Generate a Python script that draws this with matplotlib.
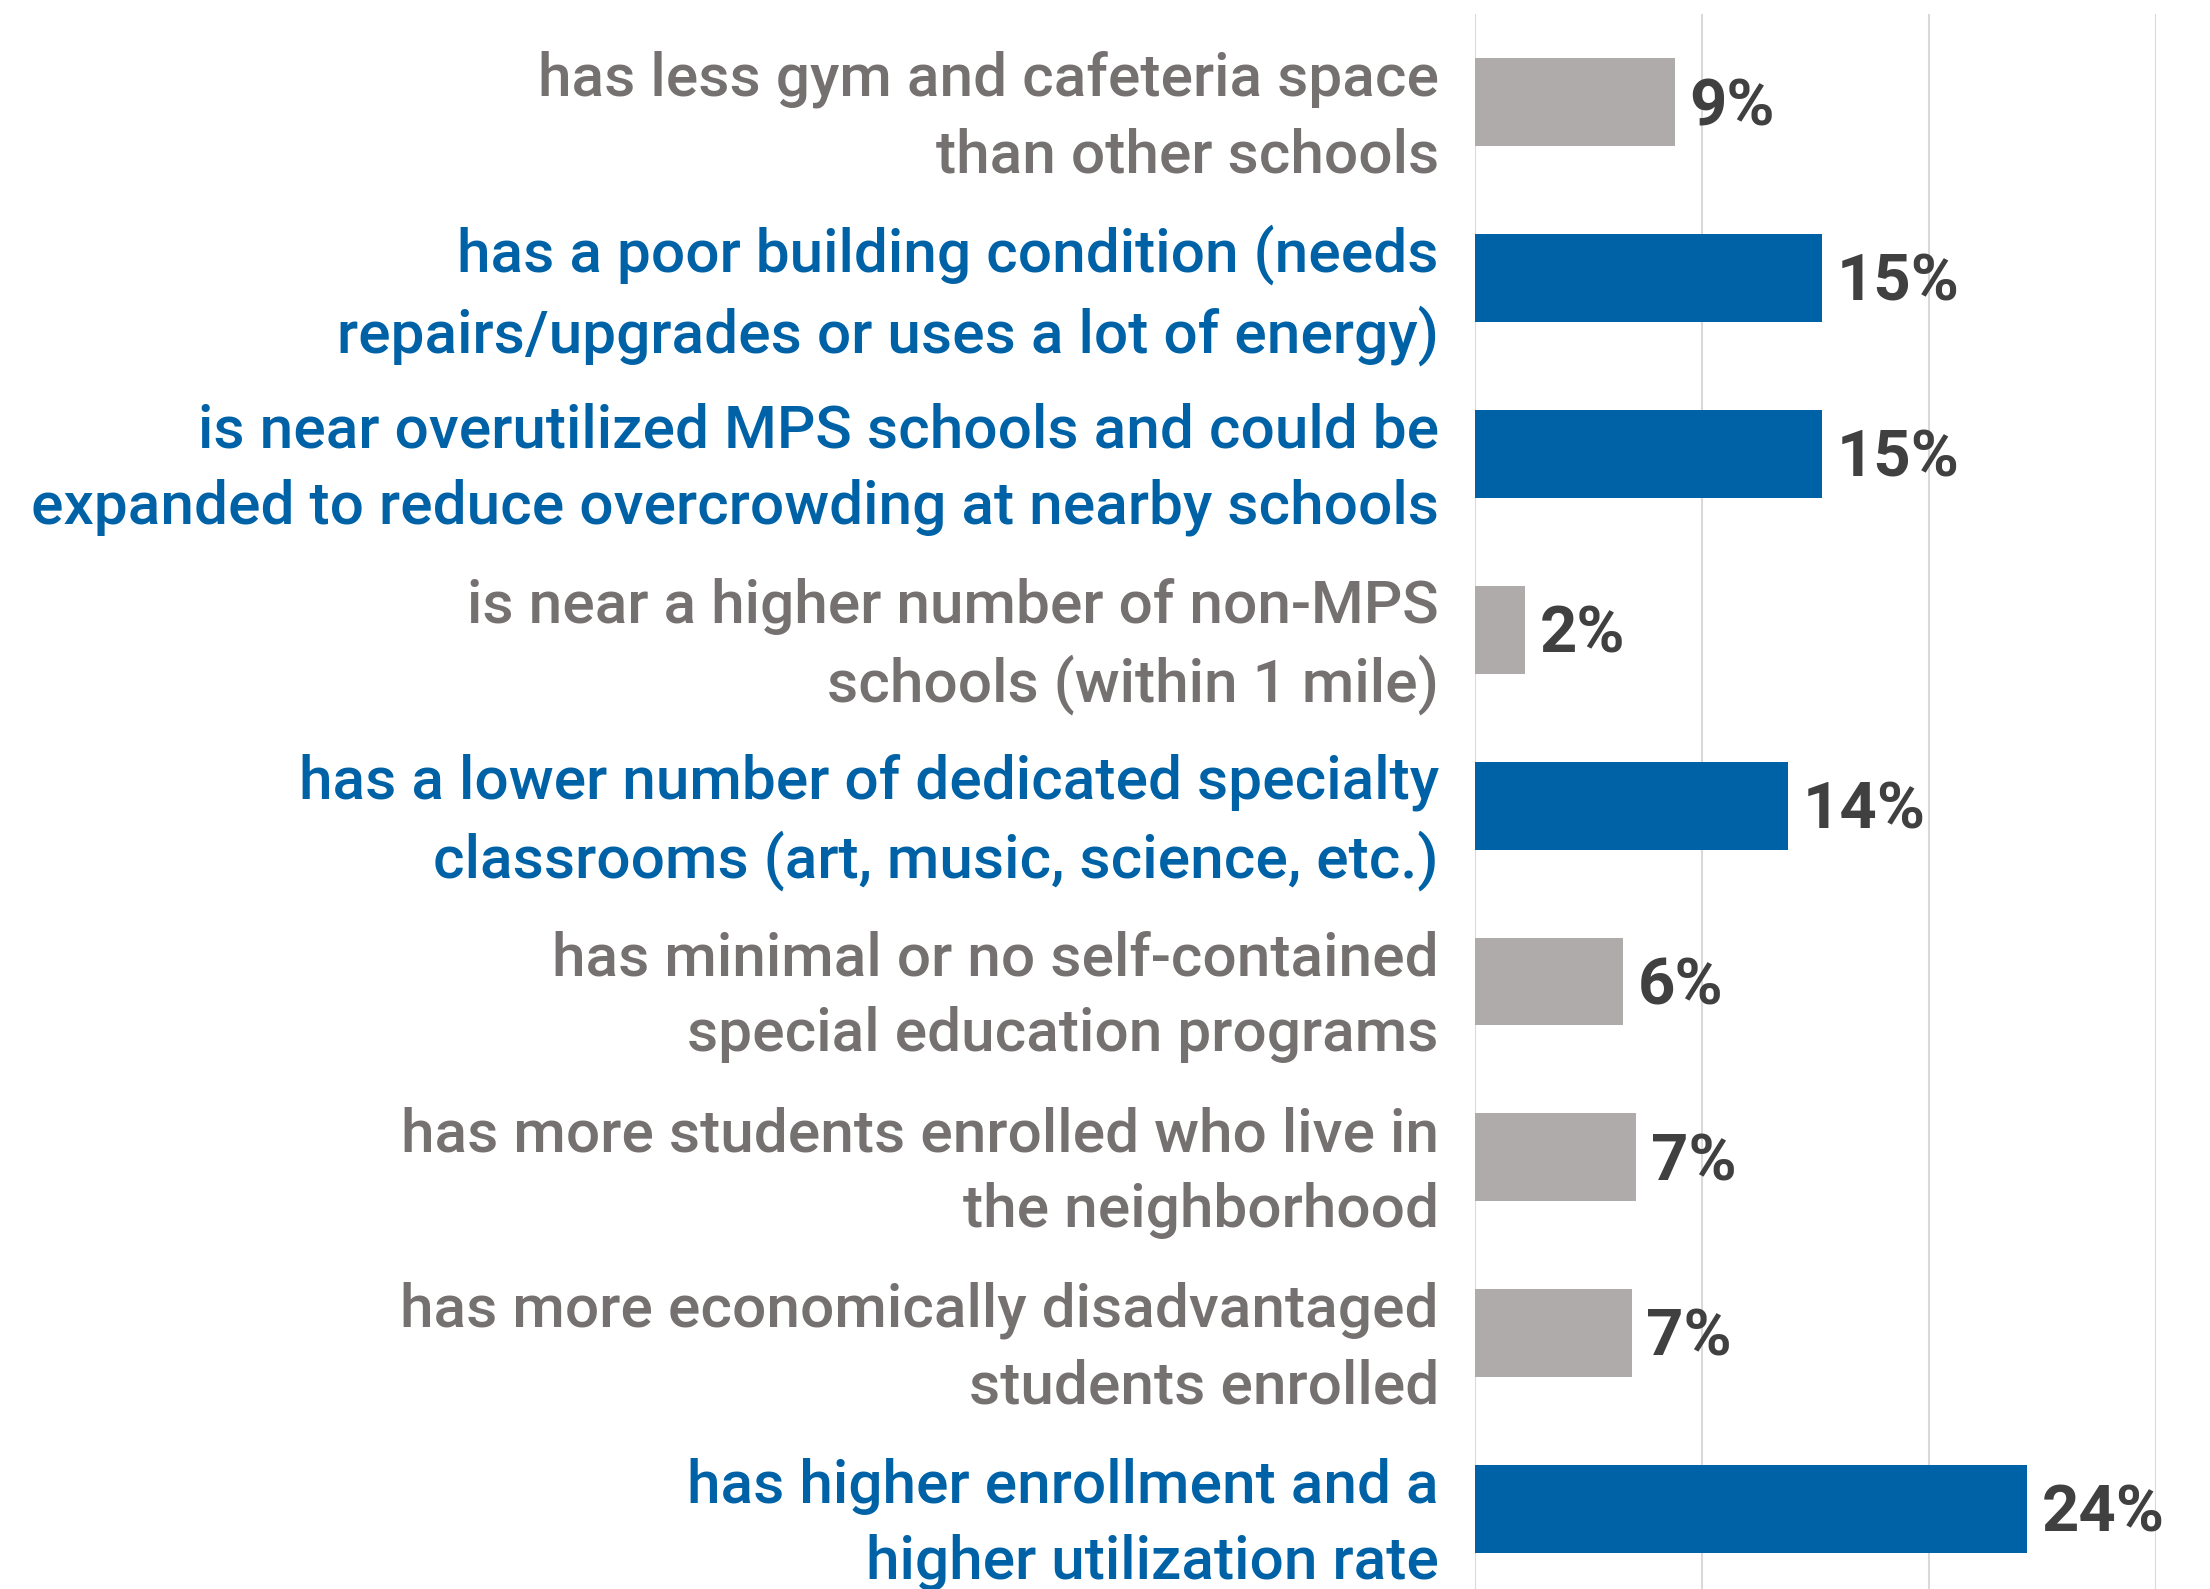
import numpy as np
import matplotlib.pyplot as plt

# Data
labels = [
    "has less gym and cafeteria space\nthan other schools",
    "has a poor building condition (needs\nrepairs/upgrades or uses a lot of energy)",
    "is near overutilized MPS schools and could be\nexpanded to reduce overcrowding at nearby schools",
    "is near a higher number of non-MPS\nschools (within 1 mile)",
    "has a lower number of dedicated specialty\nclassrooms (art, music, science, etc.)",
    "has minimal or no self-contained\nspecial education programs",
    "has more students enrolled who live in\nthe neighborhood",
    "has more economically disadvantaged\nstudents enrolled",
    "has higher enrollment and a\nhigher utilization rate",
]
values = [8.8, 15.3, 15.3, 2.2, 13.8, 6.5, 7.1, 6.9, 24.3]
value_labels = ["9%", "15%", "15%", "2%", "14%", "6%", "7%", "7%", "24%"]
highlight = [False, True, True, False, True, False, False, False, True]

blue = "#0062A6"
gray_bar = "#AFABAB"
gray_txt = "#767171"

fig = plt.figure(figsize=(22.1, 15.89), dpi=100)
ax = fig.add_axes([1475 / 2210, -0.005, (2156 - 1475) / 2210, 0.996])

y = np.arange(len(values))
colors = [blue if h else gray_bar for h in highlight]
ax.barh(y, values, height=0.5, color=colors, zorder=2)

ax.set_xlim(0, 30)
ax.set_ylim(len(values) - 0.5, -0.5)
ax.set_xticks([0, 10, 20, 30])
ax.xaxis.grid(True, color="#D9D9D9", linewidth=1.5, zorder=0)
ax.tick_params(axis="both", length=0, labelbottom=False)
for s in ax.spines.values():
    s.set_visible(False)

ax.set_yticks(y)
ax.set_yticklabels(labels, fontsize=43.5, fontfamily="Roboto", fontweight="medium",
                   linespacing=1.42)
for t, h in zip(ax.get_yticklabels(), highlight):
    t.set_color(blue if h else gray_txt)
ax.tick_params(axis="y", pad=26)

for yi, v, lab in zip(y, values, value_labels):
    ax.text(v + 0.65, yi + 0.03, lab, va="center", ha="left", fontsize=47,
            fontfamily="Roboto", fontweight="bold", color="#404040")

fig.savefig("out.png", dpi=100)
